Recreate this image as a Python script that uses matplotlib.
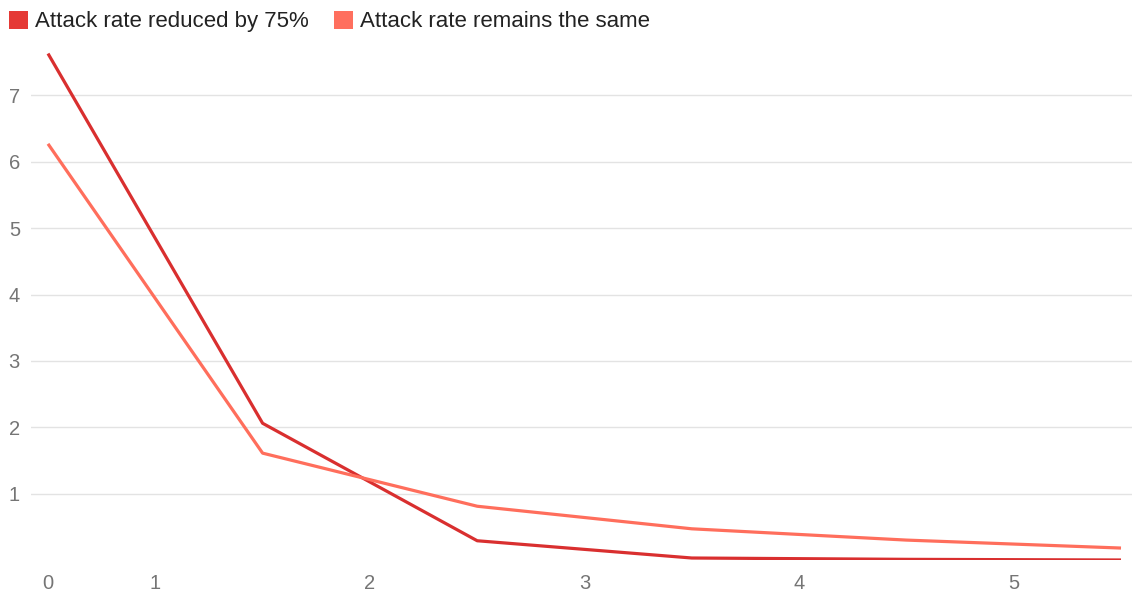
import matplotlib
matplotlib.use("Agg")
import matplotlib.pyplot as plt
from matplotlib.patches import Patch

# data
steps = [0, 1, 2, 3, 4, 5]
reduced = [7.63, 2.06, 0.29, 0.03, 0.01, 0.0]
same = [6.27, 1.61, 0.81, 0.47, 0.30, 0.18]
labels = ["Attack rate reduced by 75%", "Attack rate remains the same"]

# x tick labels sit at 0 and halfway between later points
tick_pos = [0, 0.5, 1.5, 2.5, 3.5, 4.5]
tick_lab = ["0", "1", "2", "3", "4", "5"]

RED = "#d92f2f"
SALMON = "#ff6e5c"
RED_SW = "#e53935"
SALMON_SW = "#ff6f5e"
GRID = "#e3e3e3"
TICK = "#757575"

plt.rcParams["font.family"] = ["Liberation Sans", "DejaVu Sans"]

fig = plt.figure(figsize=(11.32, 5.93), dpi=100)
ax = fig.add_axes([31 / 1132, 33 / 593, 1 - 31 / 1132, 531 / 593])

ax.plot(steps, reduced, color=RED, lw=2.3, solid_capstyle="butt", zorder=3)
ax.plot(steps, same, color=SALMON, lw=2.3, solid_capstyle="butt", zorder=3)

ax.set_xlim(-17 / 214.6, 5 + 11 / 214.6)
ax.set_ylim(0, 8)

for y in range(1, 8):
    ax.axhline(y, color=GRID, lw=1.0, zorder=1)

ax.set_yticks(range(1, 8))
ax.set_xticks(tick_pos)
ax.set_xticklabels(tick_lab)
ax.tick_params(axis="both", length=0, colors=TICK, labelsize=14.5)
ax.tick_params(axis="y", pad=8)
ax.tick_params(axis="x", pad=10)
for s in ax.spines.values():
    s.set_visible(False)

handles = [Patch(facecolor=RED_SW, edgecolor="none", label=labels[0]),
           Patch(facecolor=SALMON_SW, edgecolor="none", label=labels[1])]
fig.legend(handles=handles, loc="upper left", bbox_to_anchor=(-0.006, 1.008),
           ncol=2, frameon=False, fontsize=16, handlelength=0.85,
           handleheight=0.85, handletextpad=0.35, columnspacing=1.1,
           borderaxespad=0.3, labelcolor="#222222")

fig.savefig("out.png", dpi=100)
